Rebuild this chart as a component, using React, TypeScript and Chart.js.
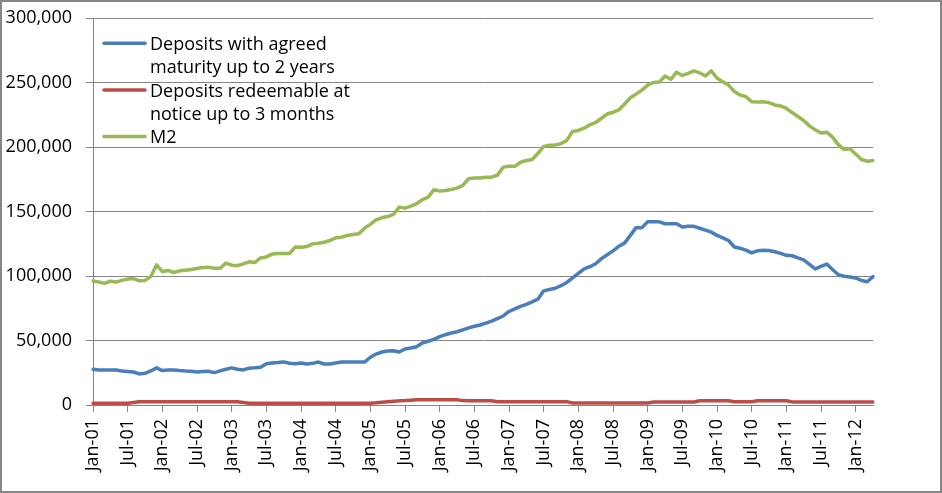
import { useEffect, useRef } from 'react';
import { Chart, registerables } from 'chart.js';

Chart.register(...registerables);

// monthly, Jan-01 .. Apr-12
const monthNames = ['Jan', 'Feb', 'Mar', 'Apr', 'May', 'Jun', 'Jul', 'Aug', 'Sep', 'Oct', 'Nov', 'Dec'];
const startYear = 2001;
const monthCount = 136;
const labels: string[] = [];
for (let i = 0; i < monthCount; i++) {
  const yr = startYear + Math.floor(i / 12);
  labels.push(`${monthNames[i % 12]}-${String(yr % 100).padStart(2, '0')}`);
}

const depositsAgreed = [
  27700, 27200, 27200, 27200, 27200, 26400, 25900, 25600, 24100, 24600, 26400, 28800,
  26700, 27200, 27200, 26700, 26400, 26200, 25600, 25900, 26200, 25100, 26400, 27700,
  28800, 27700, 27200, 28500, 28800, 29300, 31900, 32600, 32900, 33400, 32400, 31900,
  32600, 31800, 32300, 33300, 31800, 31800, 32600, 33300, 33300, 33300, 33300, 33300,
  37000, 39500, 41100, 41900, 42100, 41100, 43400, 44200, 45200, 48100, 49400, 50900,
  53000, 54500, 55800, 56800, 58300, 59800, 61000, 62000, 63500, 65000, 67000, 69000,
  72500, 74500, 76500, 78000, 80000, 82000, 88500, 89500, 90500, 92500, 95000, 98500,
  102000, 105500, 107200, 109500, 113500, 116500, 119500, 123000, 125500, 131500, 137500, 137500,
  142000, 142000, 142000, 140500, 140500, 140500, 138000, 138500, 138500, 137000, 135500, 134000,
  131500, 129500, 127500, 122500, 121500, 120000, 118000, 119500, 120000, 119800, 118800, 117500,
  116000, 115700, 114000, 112500, 109000, 105500, 107500, 109300, 105000, 101000, 99800, 99200,
  98500, 96500, 95500, 99500,
];

const depositsRedeemable = [
  1300, 1300, 1300, 1300, 1300, 1300, 1300, 1900, 2600, 2600, 2600, 2600,
  2600, 2600, 2600, 2600, 2600, 2600, 2600, 2600, 2600, 2600, 2600, 2600,
  2600, 2600, 2000, 1400, 1400, 1400, 1400, 1400, 1400, 1400, 1400, 1400,
  1400, 1400, 1400, 1400, 1400, 1400, 1400, 1400, 1400, 1400, 1400, 1400,
  1400, 1700, 2200, 2600, 2900, 3200, 3400, 3700, 4000, 4000, 4000, 4000,
  4000, 4000, 4000, 4000, 3400, 3300, 3300, 3300, 3300, 3300, 2600, 2600,
  2600, 2600, 2600, 2600, 2600, 2600, 2600, 2600, 2600, 2600, 2600, 1600,
  1600, 1600, 1600, 1600, 1600, 1600, 1600, 1600, 1600, 1600, 1600, 1600,
  1600, 2300, 2300, 2300, 2300, 2300, 2300, 2300, 2300, 3300, 3300, 3300,
  3300, 3300, 3300, 2500, 2500, 2500, 2500, 3300, 3300, 3300, 3300, 3300,
  3300, 2400, 2400, 2400, 2400, 2400, 2400, 2400, 2400, 2400, 2400, 2400,
  2400, 2400, 2400, 2400,
];

const m2 = [
  96100, 95300, 94300, 96000, 95300, 96600, 97600, 98000, 96300, 96600, 99600, 108600,
  103500, 104300, 102700, 104000, 104500, 105000, 105800, 106600, 106800, 106000, 106000, 110000,
  108400, 108000, 109400, 111000, 110400, 114000, 114800, 117000, 117400, 117400, 117400, 122500,
  122300, 122800, 124900, 125400, 126200, 127500, 129600, 130100, 131400, 132200, 132700, 137100,
  140000, 143600, 145100, 146100, 147700, 153400, 152600, 154100, 156000, 159100, 161100, 166800,
  165800, 166300, 167100, 168100, 170200, 175400, 175900, 175900, 176600, 176600, 178200, 184400,
  185000, 185000, 188200, 189500, 190300, 194900, 200500, 201300, 201500, 202600, 205100, 212000,
  212800, 214600, 217200, 219000, 222300, 225600, 226900, 228700, 233300, 238200, 241000, 244100,
  247900, 250000, 250300, 255000, 252500, 258000, 255500, 257000, 259000, 257500, 255000, 259000,
  253500, 250500, 248000, 243000, 240300, 239000, 235100, 234900, 235100, 234400, 232600, 231800,
  230000, 226700, 223600, 220500, 216400, 213300, 210800, 211500, 207700, 201800, 198000, 198700,
  194600, 190300, 189000, 189500,
];

const seriesNames = [
  ['Deposits with agreed', 'maturity up to 2 years'],
  ['Deposits redeemable at', 'notice up to 3 months'],
  ['M2'],
];
const seriesColors = ['#4a7ebb', '#be4b48', '#98b954'];

const yTicks = [0, 50000, 100000, 150000, 200000, 250000, 300000];

const gridColor = '#868686';

// legend drawn inside the plot, Excel style, with wrapped labels
const insideLegend = {
  id: 'insideLegend',
  afterDatasetsDraw(chart: Chart) {
    const ctx = chart.ctx;
    const lineH = 23.3;
    let baseline = 48;
    ctx.save();
    ctx.font = "18px 'Open Sans'";
    ctx.fillStyle = '#000';
    ctx.textBaseline = 'alphabetic';
    ctx.textAlign = 'left';
    seriesNames.forEach((lines, i) => {
      ctx.strokeStyle = seriesColors[i];
      ctx.lineWidth = 3.5;
      ctx.lineCap = 'round';
      ctx.beginPath();
      ctx.moveTo(102, baseline - 6.7);
      ctx.lineTo(143, baseline - 6.7);
      ctx.stroke();
      lines.forEach((t, j) => ctx.fillText(t, 148, baseline + j * lineH));
      baseline += lines.length * lineH;
    });
    ctx.restore();
  },
};

export default function App() {
  const canvasRef = useRef<HTMLCanvasElement>(null);

  useEffect(() => {
    document.body.style.margin = '0';
    if (!canvasRef.current) return;

    Chart.defaults.font.family = "'Open Sans'";
    Chart.defaults.font.size = 18;
    Chart.defaults.color = '#000';

    const seriesData = [depositsAgreed, depositsRedeemable, m2];

    const chart = new Chart(canvasRef.current, {
      type: 'line',
      data: {
        labels,
        datasets: seriesData.map((d, i) => ({
          label: seriesNames[i].join(' '),
          data: d,
          borderColor: seriesColors[i],
          backgroundColor: seriesColors[i],
          borderWidth: 3.5,
          pointRadius: 0,
          tension: 0,
          borderJoinStyle: 'round' as const,
          borderCapStyle: 'round' as const,
        })),
      },
      options: {
        responsive: true,
        maintainAspectRatio: false,
        animation: false,
        layout: { padding: { top: 16, right: 67, left: 0, bottom: 0 } },
        plugins: {
          legend: { display: false },
          tooltip: { enabled: false },
        },
        scales: {
          x: {
            type: 'category',
            offset: false,
            afterFit: (s: any) => { s.height = 86; },
            grid: { drawOnChartArea: false, drawTicks: true, tickLength: 7, color: gridColor },
            border: { color: gridColor },
            ticks: {
              autoSkip: false,
              minRotation: 90,
              maxRotation: 90,
              padding: 7,
              callback: (_v: any, i: number) => (i % 6 === 0 ? labels[i] : null),
            },
          },
          y: {
            min: yTicks[0],
            max: yTicks[yTicks.length - 1],
            afterFit: (s: any) => {
              s.width = 91;
              s.paddingTop = 0;
              s.paddingBottom = 0;
            },
            afterBuildTicks: (s: any) => { s.ticks = yTicks.map((v) => ({ value: v })); },
            grid: { color: gridColor, tickLength: 7, drawTicks: true },
            border: { color: gridColor },
            ticks: {
              padding: 14,
              callback: (v: any) => Number(v).toLocaleString('en-US'),
            },
          },
        },
      },
      plugins: [insideLegend],
    });

    return () => chart.destroy();
  }, []);

  return (
    <div style={{ width: 942, height: 493, boxSizing: 'border-box', border: '2px solid #878787', background: '#fff' }}>
      <div style={{ position: 'relative', width: 938, height: 489 }}>
        <canvas ref={canvasRef} />
      </div>
    </div>
  );
}
